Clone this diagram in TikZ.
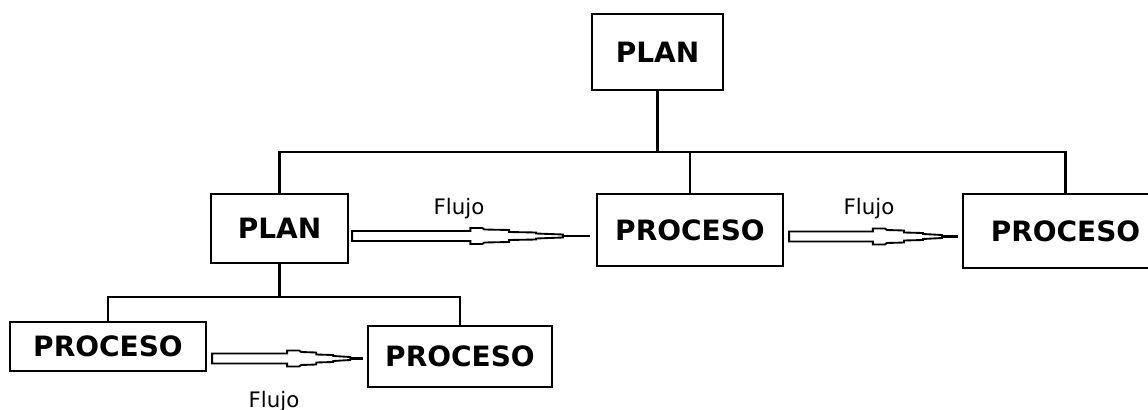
\documentclass[tikz,border=0pt]{standalone}
\usepackage{fontspec}
\setmainfont{DejaVu Sans}
\usetikzlibrary{calc}
\tikzset{
  box/.style={draw=black, line width=1.6pt, fill=white, inner sep=0pt,
    font=\fontsize{21}{24}\selectfont\bfseries},
  conn/.style={draw=black, line width=1.6pt},
  flujolbl/.style={font=\fontsize{16}{19}\selectfont, inner sep=0pt, anchor=base},
  hollow/.style={draw=black, line width=1.4pt, fill=white, line join=miter}
}
\newcommand{\flujoarrow}[2]{%
  \draw[hollow]
    ($(#1)+(0,-5)$) -- ($(#1)!0.485!(#2)+(0,-5)$) -- ($(#1)!0.485!(#2)+(0,-8)$)
    -- ($(#1)!0.485!(#2)+(12,-8)$) -- ($(#1)!0.485!(#2)+(14,-6.5)$)
    -- ($(#1)!0.595!(#2)+(12,-6)$) -- ($(#1)!0.595!(#2)+(12,-4)$)
    -- ($(#1)!0.705!(#2)+(12,-3.5)$) -- ($(#1)!0.705!(#2)+(12,-2.5)$)
    -- ($(#1)!0.815!(#2)+(12,-1.5)$) -- ($(#1)!0.815!(#2)+(12,1.5)$)
    -- ($(#1)!0.705!(#2)+(12,2.5)$) -- ($(#1)!0.705!(#2)+(12,3.5)$)
    -- ($(#1)!0.595!(#2)+(12,4)$) -- ($(#1)!0.595!(#2)+(12,6)$)
    -- ($(#1)!0.485!(#2)+(14,6.5)$) -- ($(#1)!0.485!(#2)+(12,8)$)
    -- ($(#1)!0.485!(#2)+(0,8)$) -- ($(#1)!0.485!(#2)+(0,5)$)
    -- ($(#1)+(0,5)$) -- cycle;
  \draw[black, line width=1.9pt] ($(#1)!0.815!(#2)+(12,0)$) -- ($(#1)!0.975!(#2)$);
}
\begin{document}
\begin{tikzpicture}[x=0.75pt,y=-0.75pt]
\useasboundingbox[fill=white] (0,0) rectangle (1148,410);

% boxes
\node[box, minimum width=98.25pt, minimum height=57pt] (topPlan) at (657.5,52) {PLAN};
\node[box, minimum width=102.75pt, minimum height=51.75pt] (plan2) at (279.5,228.5) {PLAN};
\node[box, minimum width=139.5pt, minimum height=54pt] (procM) at (690,230) {PROCESO};
\node[box, minimum width=153.75pt, minimum height=55.5pt] (procR) at (1065.5,231) {PROCESO};
\node[box, minimum width=147pt, minimum height=36.75pt] (procBL) at (108,346.5) {PROCESO};
\node[box, minimum width=138pt, minimum height=45.75pt] (procBR) at (460,356.5) {PROCESO};

% tree connectors
\coordinate (busY) at (0,152);
\coordinate (busY2) at (0,297);
\draw[conn] (topPlan.south) -- (topPlan.south |- busY);
\draw[conn] (plan2.north) -- (plan2.north |- busY) -- (procR.north |- busY) -- (procR.north);
\draw[conn] (procM.north) -- (procM.north |- busY);
\draw[conn] (plan2.south) -- (plan2.south |- busY2);
\draw[conn] (procBL.north) -- (procBL.north |- busY2) -- (procBR.north |- busY2) -- (procBR.north);

% flow arrows
\coordinate (a1s) at ($(plan2.east)+(3,7.5)$);
\coordinate (a1e) at (a1s -| procM.west);
\coordinate (a2s) at ($(procM.east)+(5,6.5)$);
\coordinate (a2e) at (a2s -| procR.west);
\coordinate (a3s) at ($(procBL.east)+(5,12)$);
\coordinate (a3e) at (a3s -| procBR.west);
\flujoarrow{a1s}{a1e}
\flujoarrow{a2s}{a2e}
\flujoarrow{a3s}{a3e}

% labels
\node[flujolbl] (l1) at (459,214) {Flujo};
\node[flujolbl] (l2) at (869,214) {Flujo};
\node[flujolbl] (l3) at (274,407) {Flujo};
\end{tikzpicture}
\end{document}
